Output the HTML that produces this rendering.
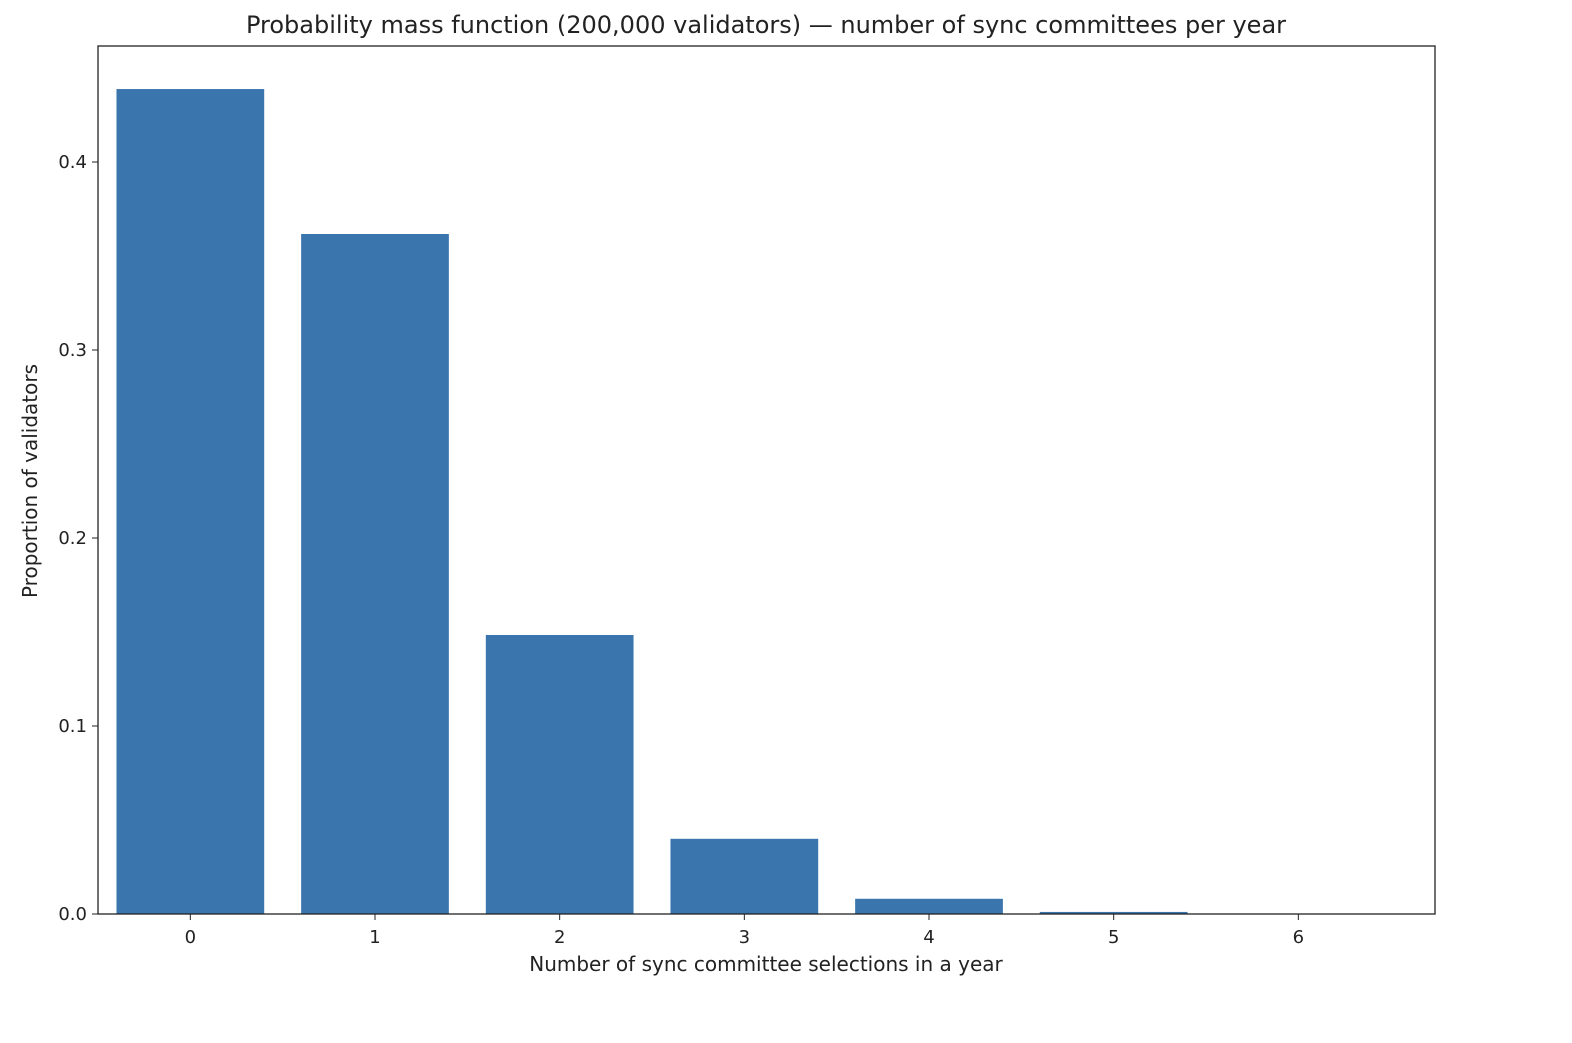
<!DOCTYPE html>
<html><head><meta charset="utf-8"><style>
body{margin:0;background:#fff;width:1572px;height:1038px;overflow:hidden}
svg text{font-family:"DejaVu Sans","Liberation Sans",sans-serif;fill:#222}
</style></head><body>
<svg id="chart" width="1572" height="1038" xmlns="http://www.w3.org/2000/svg">
<text x="766" y="33" text-anchor="middle" font-size="24">Probability mass function (200,000 validators) — number of sync committees per year</text>
<g id="bars"></g>
<g id="xticks"></g>
<g id="yticks"></g>
<rect x="98" y="46" width="1337" height="868" fill="none" stroke="#222" stroke-width="1.3"/>
<text x="766" y="971" text-anchor="middle" font-size="20">Number of sync committee selections in a year</text>
<text transform="translate(37,481) rotate(-90)" text-anchor="middle" font-size="20">Proportion of validators</text>
</svg>
<script>
const categories = [0,1,2,3,4,5,6];
const values = [0.4388,0.3617,0.1484,0.0400,0.0081,0.0011,0.0001];
const yTickLabels = ["0.0","0.1","0.2","0.3","0.4"];
const yTickValues = [0,0.1,0.2,0.3,0.4];
const NS="http://www.w3.org/2000/svg";
const L=98,R=1435,T=46,B=914;
const xMin=-0.5,xMax=6.74,yMin=0,yMax=0.4617;
const xs=v=>L+(v-xMin)/(xMax-xMin)*(R-L);
const ys=v=>B-(v-yMin)/(yMax-yMin)*(B-T);
const bw=0.8*(R-L)/(xMax-xMin);
const bars=document.getElementById('bars');
categories.forEach((c,i)=>{
  const r=document.createElementNS(NS,'rect');
  
  
  const y=ys(values[i]);
  r.setAttribute('x',xs(c)-bw/2);r.setAttribute('y',y);
  r.setAttribute('width',bw);r.setAttribute('height',Math.max(0,B-y));
  r.setAttribute('fill','#3a76ad');
  bars.appendChild(r);
});
const xg=document.getElementById('xticks');
categories.forEach(c=>{
  const l=document.createElementNS(NS,'line');
  
  
  l.setAttribute('x1',xs(c));l.setAttribute('x2',xs(c));l.setAttribute('y1',B);l.setAttribute('y2',B+6);
  l.setAttribute('stroke','#222');xg.appendChild(l);
  const t=document.createElementNS(NS,'text');
  
  
  t.setAttribute('x',xs(c));t.setAttribute('y',B+29);t.setAttribute('text-anchor','middle');t.setAttribute('font-size','18');
  t.textContent=c;xg.appendChild(t);
});
const yg=document.getElementById('yticks');
yTickValues.forEach((v,i)=>{
  const l=document.createElementNS(NS,'line');
  
  
  l.setAttribute('x1',L-6);l.setAttribute('x2',L);l.setAttribute('y1',ys(v));l.setAttribute('y2',ys(v));
  l.setAttribute('stroke','#222');yg.appendChild(l);
  const t=document.createElementNS(NS,'text');
  
  
  t.setAttribute('x',L-11);t.setAttribute('y',ys(v)+6);t.setAttribute('text-anchor','end');t.setAttribute('font-size','18');
  t.textContent=yTickLabels[i];yg.appendChild(t);
});
</script>
</body></html>
